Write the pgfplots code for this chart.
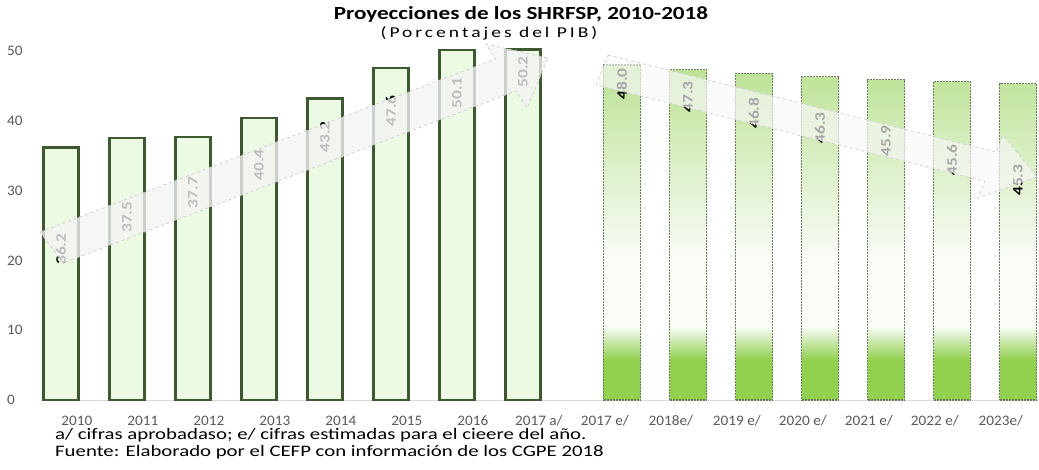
\documentclass[border=0pt]{standalone}
\usepackage{pgfplots}
\pgfplotsset{compat=1.18}
\usepackage{fontspec}
\setmainfont{Carlito}
\newfontfamily\titlefont[FakeStretch=1.25]{Carlito}
\newfontfamily\notefont[FakeStretch=1.3]{Carlito}
\newfontfamily\subfont[FakeStretch=1.3,LetterSpace=20]{Carlito}
\newfontfamily\tickfont[FakeStretch=1.05]{Carlito}
\newfontfamily\labfont[FakeStretch=1.2]{Carlito}
\definecolor{gbot}{RGB}{146,208,80}
\definecolor{gtop}{RGB}{188,226,148}
\definecolor{gwhite}{RGB}{250,252,248}
\definecolor{bedge}{RGB}{62,88,50}
\definecolor{bfill}{RGB}{236,249,227}
\definecolor{dedge}{RGB}{105,125,90}
\definecolor{tickgray}{RGB}{89,89,89}
\pgfdeclareverticalshading{greenbar}{100bp}{color(0bp)=(gbot); color(25bp)=(gbot); color(31bp)=(gbot); color(36bp)=(gwhite); color(46bp)=(gwhite); color(75bp)=(gtop); color(100bp)=(gtop)}
\begin{document}
\begin{tikzpicture}
\begin{axis}[name=ax, set layers, scale only axis, width=996pt, height=349pt,
  xmin=-0.273, xmax=14.818, ymin=0, ymax=50, clip=false,
  axis x line=bottom, axis y line=left,
  x axis line style={draw={rgb,255:red,217;green,217;blue,217}, line width=0.8pt, -},
  y axis line style={draw=none},
  major tick style={draw=none}, minor tick style={draw=none},
  xtick={0.24,1.24,2.24,3.24,4.24,5.24,6.24,7.24,8.24,9.24,10.24,11.24,12.24,13.24,14.24},
  xticklabels={2010,2011,2012,2013,2014,2015,2016,2017 a/,2017 e/,2018e/,2019 e/,2020 e/,2021 e/,2022 e/,2023e/},
  ytick={0,10,20,30,40,50},
  /pgf/number format/assume math mode=true,
  tick label style={font=\tickfont\fontsize{14.5}{16}\selectfont, text=tickgray},
  yticklabel style={anchor=west, inner sep=0pt, xshift=-34pt},
  xticklabel style={anchor=base, inner sep=0pt, yshift=-23pt},
]
% historical bars
\addplot[ybar, bar width=35pt, bar shift=0pt, draw=bedge, line width=2.4pt, fill=bfill]
  coordinates {(0,36.2)(1,37.5)(2,37.7)(3,40.4)(4,43.2)(5,47.6)(6,50.1)(7,50.2)};
% estimated bars
\addplot[ybar, bar width=37pt, bar shift=0pt, draw=dedge, line width=1.3pt,
  dash pattern=on 2pt off 1pt, shade, shading=greenbar]
  coordinates {(8.5,48.0)(9.5,47.3)(10.5,46.8)(11.5,46.3)(12.5,45.9)(13.5,45.6)(14.5,45.3)};
% data labels
\addplot[draw=none, mark=none, nodes near coords, point meta=explicit symbolic,
  every node near coord/.append style={rotate=90, anchor=center, inner sep=0pt,
    font=\labfont\bfseries\fontsize{14.5}{15}\selectfont, text=black}]
  coordinates {(0,21.6)[36.2] (1,26.2)[37.5] (2,29.7)[37.7] (3,33.7)[40.4]
    (4,37.7)[43.2] (5,41.4)[47.6] (6,44.0)[50.1] (7,47.0)[50.2]
    (8.5,45.3)[48.0] (9.5,43.4)[47.3] (10.5,41.1)[46.8] (11.5,39.0)[46.3]
    (12.5,37.1)[45.9] (13.5,34.4)[45.6] (14.5,31.5)[45.3]};
% rising arrow
\addplot[on layer=axis foreground, fill={rgb,255:red,243;green,243;blue,243}, fill opacity=0.78,
  draw={rgb,255:red,205;green,205;blue,205}, dashed, line width=0.7pt]
  coordinates {(-0.318,24.07)(6.583,48.87)(6.439,51.0)(7.379,49.0)(7.061,41.83)(6.894,44.28)(0.030,19.63)} -- cycle;
% falling arrow
\addplot[on layer=axis foreground, fill={rgb,255:red,247;green,247;blue,247}, fill opacity=0.68,
  draw={rgb,255:red,205;green,205;blue,205}, dashed, line width=0.7pt]
  coordinates {(8.288,49.43)(14.17,35.52)(14.27,37.97)(14.79,31.95)(13.89,28.94)(13.995,31.35)(8.106,45.13)} -- cycle;
\end{axis}
\node[anchor=base, inner sep=0pt, font=\titlefont\bfseries\fontsize{18.5}{20}\selectfont] at ([xshift=-20pt,yshift=31.5pt]ax.north) {Proyecciones de los SHRFSP, 2010-2018};
\node[anchor=base, inner sep=0pt, font=\subfont\fontsize{15}{16}\selectfont] at ([xshift=-52pt,yshift=13pt]ax.north) {(Porcentajes del PIB)};
\node[anchor=base west, inner sep=0pt, font=\notefont\fontsize{16}{17}\selectfont] at ([xshift=12pt,yshift=-40pt]ax.south west) {a/ cifras aprobadaso; e/ cifras estimadas para el cieere del año.};
\node[anchor=base west, inner sep=0pt, font=\notefont\fontsize{16}{17}\selectfont] at ([xshift=12pt,yshift=-57pt]ax.south west) {Fuente: Elaborado por el CEFP con información de los CGPE 2018};
\pgfresetboundingbox
\path[use as bounding box] ([xshift=-43pt,yshift=-70pt]ax.south west) rectangle ([yshift=51pt]ax.north east);
\end{tikzpicture}
\end{document}
